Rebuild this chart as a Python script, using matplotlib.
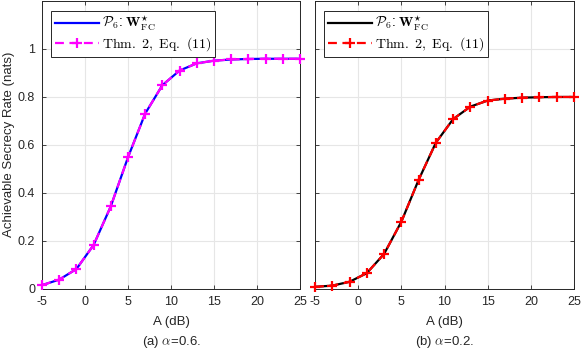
import matplotlib
matplotlib.use('Agg')
import matplotlib.pyplot as plt
import numpy as np

plt.rcParams['font.family'] = ['Liberation Sans', 'DejaVu Sans']
plt.rcParams['mathtext.fontset'] = 'cm'
plt.rcParams['axes.unicode_minus'] = False

# SNR A (dB)
A_dB = [-5, -3, -1, 1, 3, 5, 7, 9, 11, 13, 15, 17, 19, 21, 23, 25]

# alpha = 0.6
rate_p6_a = [0.016, 0.039, 0.083, 0.183, 0.344, 0.548, 0.730, 0.848, 0.909,
             0.939, 0.950, 0.955, 0.957, 0.958, 0.958, 0.958]
rate_thm_a = rate_p6_a

# alpha = 0.2
rate_p6_b = [0.009, 0.014, 0.030, 0.066, 0.146, 0.280, 0.454, 0.609, 0.707,
             0.759, 0.784, 0.792, 0.796, 0.798, 0.799, 0.799]
rate_thm_b = rate_p6_b

xticks = [-5, 0, 5, 10, 15, 20, 25]
yticks = [0, 0.2, 0.4, 0.6, 0.8, 1]
captions = [r'(a) $\alpha$=0.6.', r'(b) $\alpha$=0.2.']

lbl_p6 = r'$\mathcal{P}_6$: $\mathbf{W}^{\star}_{\mathrm{FC}}$'
lbl_thm = r'$\mathrm{Thm.\ 2,\ Eq.\ (11)}$'

fig = plt.figure(figsize=(5.81, 3.5), dpi=100)
ax1 = fig.add_axes([0.0723, 0.1743, 0.444, 0.824])
ax2 = fig.add_axes([0.5422, 0.1743, 0.4458, 0.824])

panels = [
    (ax1, rate_p6_a, rate_thm_a, 'blue', 'magenta'),
    (ax2, rate_p6_b, rate_thm_b, 'black', 'red'),
]

edge = '#262626'
for i, (ax, y1, y2, c1, c2) in enumerate(panels):
    ax.plot(A_dB, y1, '-', color=c1, lw=1.6, label=lbl_p6)
    ax.plot(A_dB, y2, '--', color=c2, lw=1.6, marker='+', ms=7.5, mew=1.6,
            dashes=(4, 2.5), label=lbl_thm, clip_on=False, zorder=3)
    ax.set_xlim(-5, 25)
    ax.set_ylim(0, 1.2)
    ax.set_xticks(xticks)
    ax.set_yticks(yticks)
    ax.set_yticklabels(['0', '0.2', '0.4', '0.6', '0.8', '1'])
    ax.grid(True, color='#e6e6e6', lw=0.8)
    ax.set_axisbelow(True)
    ax.tick_params(direction='in', top=True, right=True, length=3,
                   labelsize=9, colors=edge, width=0.6, pad=5)
    for s in ax.spines.values():
        s.set_color(edge)
        s.set_linewidth(0.7)
    ax.set_xlabel('A (dB)', fontsize=9.5, color=edge, labelpad=6)
    leg = ax.legend(loc='upper left', bbox_to_anchor=(0.035, 0.965),
                    fontsize=10, handlelength=3.2, borderaxespad=0,
                    borderpad=0.25, labelspacing=0.15, handletextpad=0.2,
                    fancybox=False, framealpha=1)
    leg.get_frame().set_edgecolor(edge)
    leg.get_frame().set_linewidth(0.7)
    fig.text(ax.get_position().x0 + ax.get_position().width / 2, 0.024,
             captions[i], ha='center', va='center', fontsize=9.5, color=edge)

ax1.set_ylabel('Achievable Secrecy Rate (nats)', fontsize=9.5, color=edge, labelpad=2)
ax2.set_yticklabels([])

fig.savefig('out.png', dpi=100)
